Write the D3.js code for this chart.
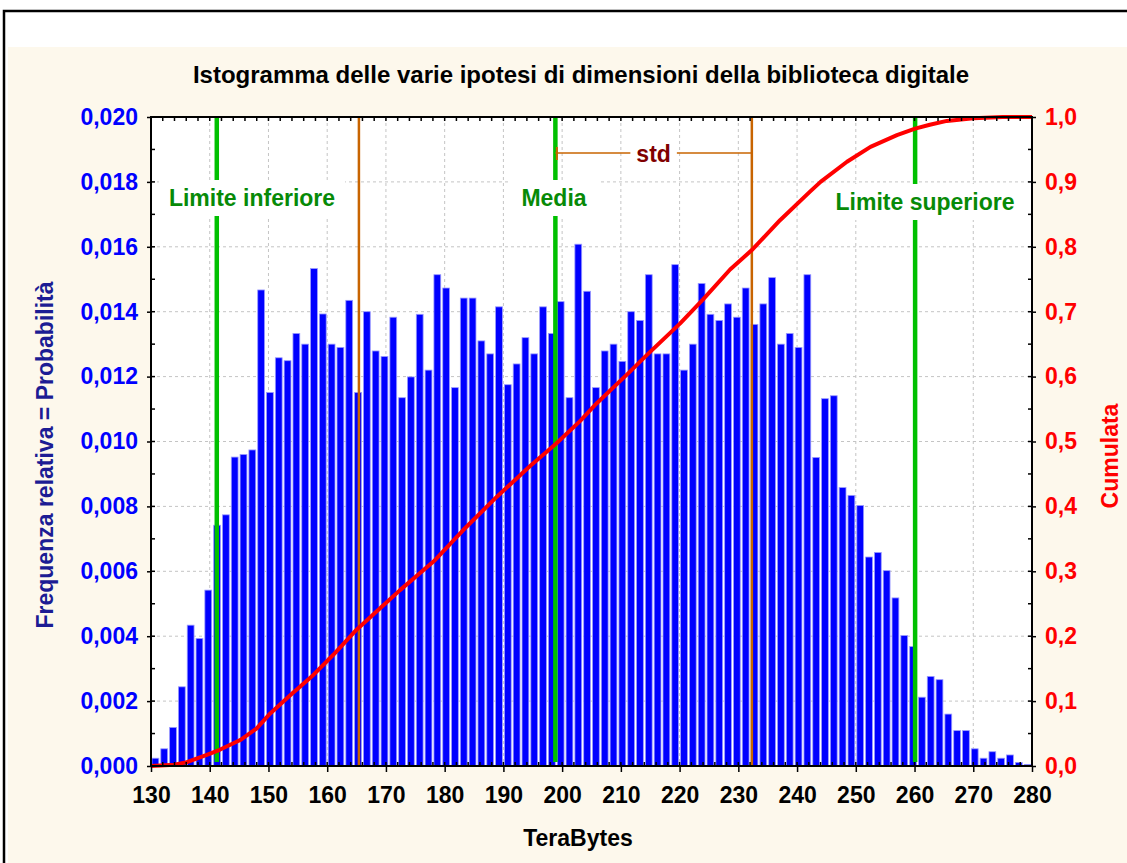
<!DOCTYPE html>
<html>
<head>
<meta charset="utf-8">
<script src="https://cdn.jsdelivr.net/npm/d3@7"></script>
<style>
  html, body { margin: 0; padding: 0; background: #fff; }
  svg { display: block; font-family: "Liberation Sans", Arial, sans-serif; font-weight: bold; }
</style>
</head>
<body>
<div id="chart"></div>
<script>
// Histogram bins: 100 classes of 1.5 TB from 130 to 280
const binStart = 130;
const binWidth = 1.5;

// Relative frequency of each bin
const frequenze = [
  0.00024, 0.00053, 0.00119, 0.00244, 0.00434, 0.00393, 0.00542, 0.00742, 0.00774, 0.00952,
  0.00960, 0.00974, 0.01467, 0.01151, 0.01258, 0.01249, 0.01333, 0.01300, 0.01533, 0.01393,
  0.01300, 0.01290, 0.01435, 0.01151, 0.01400, 0.01279, 0.01262, 0.01383, 0.01135, 0.01199,
  0.01392, 0.01220, 0.01514, 0.01473, 0.01166, 0.01442, 0.01442, 0.01310, 0.01270, 0.01415,
  0.01175, 0.01239, 0.01320, 0.01270, 0.01415, 0.01333, 0.01431, 0.01135, 0.01608, 0.01463,
  0.01166, 0.01279, 0.01300, 0.01247, 0.01400, 0.01373, 0.01514, 0.01270, 0.01270, 0.01545,
  0.01220, 0.01300, 0.01487, 0.01392, 0.01373, 0.01424, 0.01383, 0.01473, 0.01361, 0.01424,
  0.01505, 0.01300, 0.01333, 0.01290, 0.01514, 0.00951, 0.01132, 0.01141, 0.00858, 0.00834,
  0.00803, 0.00644, 0.00658, 0.00602, 0.00518, 0.00402, 0.00368, 0.00212, 0.00276, 0.00266,
  0.00160, 0.00109, 0.00109, 0.00053, 0.00024, 0.00044, 0.00024, 0.00034, 0.00011, 0.00005
];

// Cumulative curve: TeraBytes and cumulata
const cumulataTB = [130, 134, 136.1, 139.5, 141.7, 145.2, 148, 150.3, 153.7, 157.6, 161, 165, 169, 172.4,
  178.1, 183.2, 188.9, 194.5, 199, 203, 205.9, 211.6, 214.4, 220.1, 224, 228.6, 232.3, 237.1, 242.2,
  244, 248.5, 252.5, 257, 260.1, 262.6, 265.5, 270, 275, 280];
const cumulataVal = [0, 0.002, 0.006, 0.017, 0.025, 0.04, 0.058, 0.081, 0.109, 0.14, 0.171, 0.21, 0.243, 0.271,
  0.315, 0.364, 0.415, 0.462, 0.497, 0.531, 0.559, 0.608, 0.633, 0.682, 0.719, 0.765, 0.795, 0.841, 0.885,
  0.9, 0.931, 0.954, 0.972, 0.982, 0.988, 0.994, 0.998, 1, 1];

// Reference lines
const limiteInferiore = 141.2;
const media = 198.85;
const std = 33.45;
const limiteSuperiore = 260.1;

// Ticks
const xTicks = d3.range(130, 281, 10);
const yTicks = [0, 0.002, 0.004, 0.006, 0.008, 0.010, 0.012, 0.014, 0.016, 0.018, 0.020];
const y2Ticks = [0, 0.1, 0.2, 0.3, 0.4, 0.5, 0.6, 0.7, 0.8, 0.9, 1.0];

const W = 1127, H = 863;
const pLeft = 151, pRight = 1032, pTop = 117, pBottom = 766;

const it = d3.formatLocale({ decimal: ",", thousands: ".", grouping: [3], currency: ["", "€"] });

const svg = d3.select("#chart").append("svg")
  .attr("width", W)
  .attr("height", H);

// page background and frame
svg.append("rect").attr("width", W).attr("height", H).attr("fill", "#fff");
svg.append("rect").attr("x", 8).attr("y", 47).attr("width", W - 8).attr("height", H - 47).attr("fill", "#fdf8ec");
svg.append("path").attr("d", `M4,${H} V11 H${W}`).attr("fill", "none").attr("stroke", "#000").attr("stroke-width", 2.5);

const x = d3.scaleLinear().domain([130, 280]).range([pLeft, pRight]);
const y = d3.scaleLinear().domain([0, 0.02]).range([pBottom, pTop]);
const y2 = d3.scaleLinear().domain([0, 1]).range([pBottom, pTop]);

// plot area
svg.append("rect")
  .attr("x", pLeft).attr("y", pTop)
  .attr("width", pRight - pLeft).attr("height", pBottom - pTop)
  .attr("fill", "#fff");

// grid
const grid = svg.append("g").attr("stroke", "#c4c4c4").attr("stroke-dasharray", "3,3").attr("stroke-width", 1);
grid.selectAll("line.gx")
  .data(xTicks.slice(1, -1))
  .enter().append("line")
  .attr("x1", d => x(d)).attr("x2", d => x(d))
  .attr("y1", pTop).attr("y2", pBottom);
grid.selectAll("line.gy")
  .data(yTicks.slice(1, -1))
  .enter().append("line")
  .attr("x1", pLeft).attr("x2", pRight)
  .attr("y1", d => y(d)).attr("y2", d => y(d));

// bars
svg.append("g")
  .selectAll("rect")
  .data(frequenze)
  .enter().append("rect")
  .attr("x", (d, i) => x(binStart + i * binWidth) + 1)
  .attr("width", (d, i) => x(binStart + (i + 1) * binWidth) - x(binStart + i * binWidth) - 2)
  .attr("y", d => y(d))
  .attr("height", d => y(0) - y(d))
  .attr("fill", "#0000ff")
  .attr("stroke", "#9a9aff")
  .attr("stroke-width", 0.8);

// std lines (orange)
[media - std, media + std].forEach(v => {
  svg.append("line")
    .attr("x1", x(v)).attr("x2", x(v))
    .attr("y1", pTop).attr("y2", pBottom)
    .attr("stroke", "#c86400").attr("stroke-width", 2.5);
});

// limits and mean (green)
[limiteInferiore, media, limiteSuperiore].forEach(v => {
  svg.append("line")
    .attr("x1", x(v)).attr("x2", x(v))
    .attr("y1", pTop).attr("y2", pBottom - 4)
    .attr("stroke", "#00c000").attr("stroke-width", 4.5);
});

// labels with white boxes
function boxedLabel(text, cx, baseline, color, padX, minX) {
  const g = svg.append("g");
  const rect = g.append("rect").attr("fill", "#fff");
  const t = g.append("text")
    .attr("x", cx).attr("y", baseline)
    .attr("text-anchor", "middle")
    .attr("font-size", 23)
    .attr("fill", color)
    .text(text);
  const b = t.node().getBBox();
  const x0 = Math.max(b.x - padX, minX);
  rect.attr("x", x0).attr("y", b.y - 5)
    .attr("width", b.x + b.width + padX - x0)
    .attr("height", b.height + 10);
  return g;
}
boxedLabel("Limite inferiore", 252, 206, "#078a07", 10, pLeft + 1);
boxedLabel("Media", 554, 206, "#078a07", 12, pLeft);
boxedLabel("Limite superiore", 925, 210, "#078a07", 12, pLeft);

// std marker
svg.append("line")
  .attr("x1", x(media)).attr("x2", x(media + std))
  .attr("y1", 153).attr("y2", 153)
  .attr("stroke", "#c86400").attr("stroke-width", 1.5);
svg.append("line")
  .attr("x1", x(media) + 1.5).attr("x2", x(media) + 1.5)
  .attr("y1", 147).attr("y2", 160)
  .attr("stroke", "#c86400").attr("stroke-width", 2);
boxedLabel("std", x(media + std / 2), 162, "#800000", 6, pLeft);

// cumulative curve
const line = d3.line()
  .x(d => x(d[0]))
  .y(d => y2(d[1]));
svg.append("path")
  .datum(d3.zip(cumulataTB, cumulataVal))
  .attr("d", line)
  .attr("fill", "none")
  .attr("stroke", "#ff0000")
  .attr("stroke-width", 4)
  .attr("stroke-linejoin", "round");

// frame
svg.append("rect")
  .attr("x", pLeft).attr("y", pTop)
  .attr("width", pRight - pLeft).attr("height", pBottom - pTop)
  .attr("fill", "none").attr("stroke", "#000").attr("stroke-width", 2);

// minor ticks
const minorX = d3.range(132, 280, 2);
const minorY = d3.range(1, 20).map(d => d * 0.001);
const minorY2 = d3.range(1, 20).map(d => d * 0.05);
const ticks = svg.append("g").attr("stroke", "#000").attr("stroke-width", 1.5);
ticks.selectAll("line.mb").data(minorX).enter().append("line")
  .attr("x1", d => x(d)).attr("x2", d => x(d)).attr("y1", pBottom).attr("y2", pBottom - 4);
ticks.selectAll("line.mt").data(minorX).enter().append("line")
  .attr("x1", d => x(d)).attr("x2", d => x(d)).attr("y1", pTop).attr("y2", pTop + 4);
ticks.selectAll("line.ml").data(minorY).enter().append("line")
  .attr("x1", pLeft).attr("x2", pLeft + 4).attr("y1", d => y(d)).attr("y2", d => y(d));
ticks.selectAll("line.mr").data(minorY2).enter().append("line")
  .attr("x1", pRight).attr("x2", pRight - 4).attr("y1", d => y2(d)).attr("y2", d => y2(d));

// axes
const xAxis = svg.append("g")
  .attr("transform", `translate(0,${pBottom})`)
  .call(d3.axisBottom(x).tickValues(xTicks).tickFormat(d3.format("d")).tickSize(6).tickPadding(15));
const yAxis = svg.append("g")
  .attr("transform", `translate(${pLeft},0)`)
  .call(d3.axisLeft(y).tickValues(yTicks).tickFormat(it.format(".3f")).tickSize(4).tickPadding(9));
const y2Axis = svg.append("g")
  .attr("transform", `translate(${pRight},0)`)
  .call(d3.axisRight(y2).tickValues(y2Ticks).tickFormat(it.format(".1f")).tickSize(4).tickPadding(9));

[xAxis, yAxis, y2Axis].forEach(a => {
  a.select(".domain").remove();
  a.selectAll(".tick line").attr("stroke", "#000").attr("stroke-width", 1.5);
  a.selectAll(".tick text").attr("font-size", 23).attr("font-family", null).attr("font-weight", "bold");
});
xAxis.selectAll(".tick text").attr("fill", "#000");
yAxis.selectAll(".tick text").attr("fill", "#0000ff");
y2Axis.selectAll(".tick text").attr("fill", "#ff0000");

// titles
svg.append("text")
  .attr("x", 581).attr("y", 83)
  .attr("text-anchor", "middle")
  .attr("font-size", 24)
  .attr("fill", "#000")
  .text("Istogramma delle varie ipotesi di dimensioni della biblioteca digitale");

svg.append("text")
  .attr("x", 578).attr("y", 846)
  .attr("text-anchor", "middle")
  .attr("font-size", 23)
  .attr("fill", "#000")
  .text("TeraBytes");

svg.append("text")
  .attr("transform", "translate(53,455) rotate(-90)")
  .attr("text-anchor", "middle")
  .attr("font-size", 23)
  .attr("fill", "#1c1c94")
  .text("Frequenza relativa = Probabilità");

svg.append("text")
  .attr("transform", "translate(1118,456) rotate(-90)")
  .attr("text-anchor", "middle")
  .attr("font-size", 23)
  .attr("fill", "#ff0000")
  .text("Cumulata");
</script>
</body>
</html>
